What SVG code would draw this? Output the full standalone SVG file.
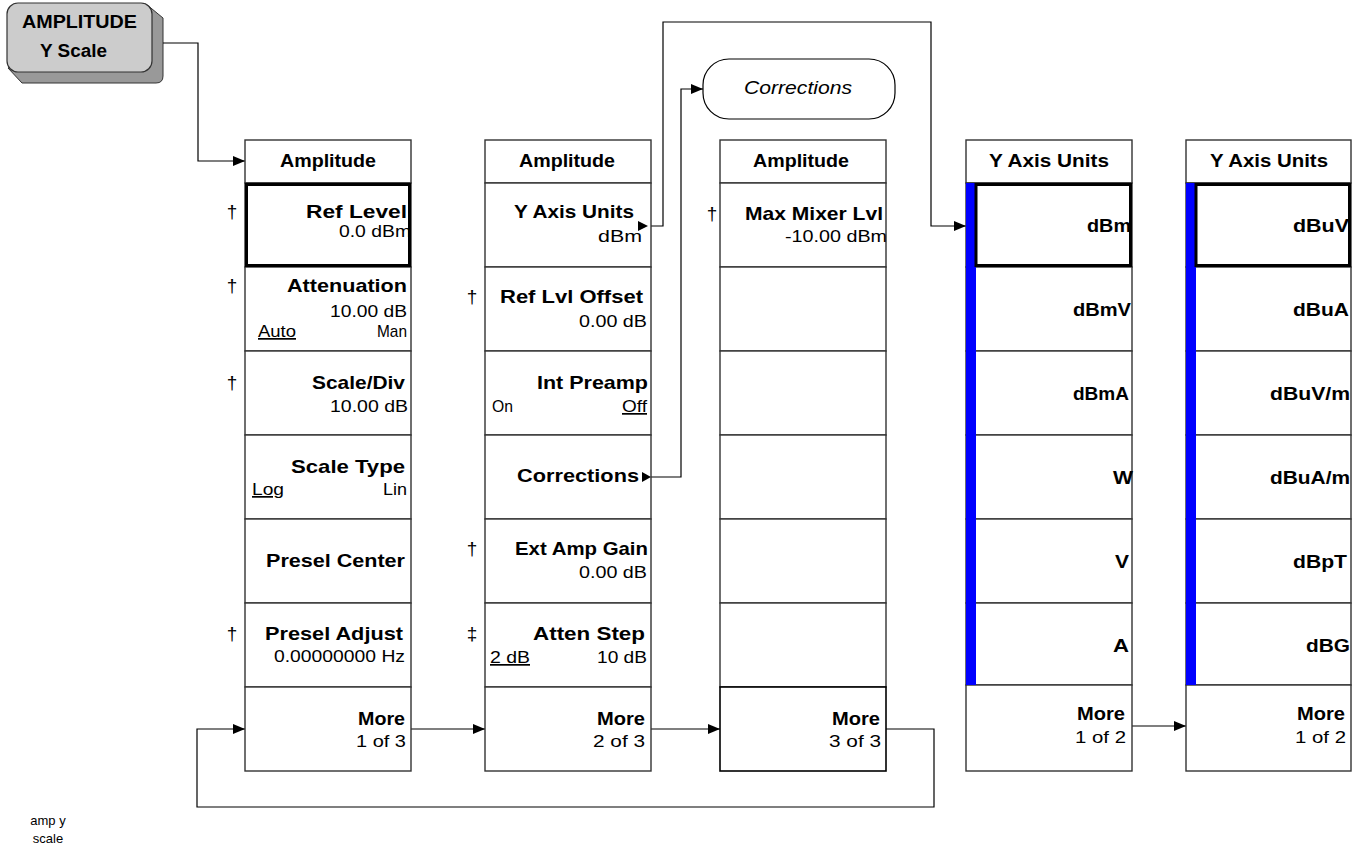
<svg xmlns="http://www.w3.org/2000/svg" width="1352" height="849" viewBox="0 0 1352 849">
<style>
text{font-family:"Liberation Sans",Arial,sans-serif;fill:#000}
.b{font-weight:bold;font-size:19px}
.h{font-weight:bold;font-size:18px}
.r{font-size:17px}
.i{font-size:18px;font-style:italic}
.d{font-size:19px;text-anchor:middle}
.u{text-decoration:underline}
.s{font-size:13px;text-anchor:middle}
.cell{fill:#fff;stroke:#333;stroke-width:1.4}
.sel{fill:none;stroke:#000;stroke-width:3}
.blue{fill:#0000ff}
.con{fill:none;stroke:#000;stroke-width:1.2}
.tri{fill:#000}
</style>
<defs>
<marker id="ar" markerWidth="12" markerHeight="10" refX="12" refY="5" orient="auto" markerUnits="userSpaceOnUse">
<path d="M0,0 L12,5 L0,10 Z" fill="#000"/>
</marker>
</defs>
<rect width="1352" height="849" fill="#fff"/>

<g id="key">
<path d="M146,4 L163,18 L163,76 Q163,83 156,83 L22,83 L8,68 Z" fill="#999" stroke="#333" stroke-width="1"/>
<rect x="7" y="3" width="145" height="69" rx="11" fill="#cccccc" stroke="#333" stroke-width="1.2"/>
<text class="h" x="22" y="28" textLength="115" lengthAdjust="spacingAndGlyphs">AMPLITUDE</text>
<text class="h" x="40" y="57" textLength="67" lengthAdjust="spacingAndGlyphs">Y Scale</text>
</g>

<g id="connectors">
<path class="con" d="M163,43 H198 V161 H245" marker-end="url(#ar)"/>
<path class="con" d="M648,226 H663 V22 H931 V226 H966" marker-end="url(#ar)"/>
<path class="con" d="M651,477 H681 V89 H703" marker-end="url(#ar)"/>
<path class="con" d="M411,729 H485" marker-end="url(#ar)"/>
<path class="con" d="M651,729 H720" marker-end="url(#ar)"/>
<path class="con" d="M886,729 H934 V807 H197 V729 H245" marker-end="url(#ar)"/>
<path class="con" d="M1132,726 H1186" marker-end="url(#ar)"/>
</g>

<g id="corrections">
<rect x="703" y="59" width="192" height="60" rx="26" fill="#fff" stroke="#000" stroke-width="1.2"/>
<text class="i" x="744" y="94" textLength="108" lengthAdjust="spacingAndGlyphs">Corrections</text>
</g>

<g id="menu1">
<rect class="cell" x="245" y="140" width="166" height="43"/>
<rect class="cell" x="245" y="183" width="166" height="84"/>
<rect class="cell" x="245" y="267" width="166" height="84"/>
<rect class="cell" x="245" y="351" width="166" height="84"/>
<rect class="cell" x="245" y="435" width="166" height="84"/>
<rect class="cell" x="245" y="519" width="166" height="84"/>
<rect class="cell" x="245" y="603" width="166" height="84"/>
<rect class="cell" x="245" y="687" width="166" height="84"/>
<rect class="sel" x="246.5" y="184.5" width="163" height="81"/>
<text class="h" x="280" y="167" textLength="96" lengthAdjust="spacingAndGlyphs">Amplitude</text>
<text class="d" x="232" y="218">†</text>
<text class="b" x="306" y="218" textLength="101" lengthAdjust="spacingAndGlyphs">Ref Level</text>
<text class="r" x="339" y="237" textLength="72" lengthAdjust="spacingAndGlyphs">0.0 dBm</text>
<text class="d" x="232" y="292">†</text>
<text class="b" x="287" y="292" textLength="120" lengthAdjust="spacingAndGlyphs">Attenuation</text>
<text class="r" x="330" y="317" textLength="77" lengthAdjust="spacingAndGlyphs">10.00 dB</text>
<text class="r u" x="258" y="337" textLength="38" lengthAdjust="spacingAndGlyphs">Auto</text>
<text class="r" x="377" y="337" textLength="30" lengthAdjust="spacingAndGlyphs">Man</text>
<text class="d" x="232" y="389">†</text>
<text class="b" x="312" y="389" textLength="93" lengthAdjust="spacingAndGlyphs">Scale/Div</text>
<text class="r" x="330" y="412" textLength="78" lengthAdjust="spacingAndGlyphs">10.00 dB</text>
<text class="b" x="291" y="473" textLength="114" lengthAdjust="spacingAndGlyphs">Scale Type</text>
<text class="r u" x="252" y="495" textLength="32" lengthAdjust="spacingAndGlyphs">Log</text>
<text class="r" x="383" y="495" textLength="24" lengthAdjust="spacingAndGlyphs">Lin</text>
<text class="b" x="266" y="567" textLength="139" lengthAdjust="spacingAndGlyphs">Presel Center</text>
<text class="d" x="232" y="640">†</text>
<text class="b" x="265" y="640" textLength="138" lengthAdjust="spacingAndGlyphs">Presel Adjust</text>
<text class="r" x="274" y="662" textLength="131" lengthAdjust="spacingAndGlyphs">0.00000000 Hz</text>
<text class="b" x="358" y="725" textLength="47" lengthAdjust="spacingAndGlyphs">More</text>
<text class="r" x="356" y="747" textLength="50" lengthAdjust="spacingAndGlyphs">1 of 3</text>
</g>

<g id="menu2">
<rect class="cell" x="485" y="140" width="166" height="43"/>
<rect class="cell" x="485" y="183" width="166" height="84"/>
<rect class="cell" x="485" y="267" width="166" height="84"/>
<rect class="cell" x="485" y="351" width="166" height="84"/>
<rect class="cell" x="485" y="435" width="166" height="84"/>
<rect class="cell" x="485" y="519" width="166" height="84"/>
<rect class="cell" x="485" y="603" width="166" height="84"/>
<rect class="cell" x="485" y="687" width="166" height="84"/>
<text class="h" x="519" y="167" textLength="96" lengthAdjust="spacingAndGlyphs">Amplitude</text>
<text class="b" x="514" y="218" textLength="120" lengthAdjust="spacingAndGlyphs">Y Axis Units</text>
<path class="tri" d="M638,221 L648,226 L638,231 Z"/>
<text class="r" x="598" y="242" textLength="44" lengthAdjust="spacingAndGlyphs">dBm</text>
<text class="d" x="472" y="303">†</text>
<text class="b" x="500" y="303" textLength="143" lengthAdjust="spacingAndGlyphs">Ref Lvl Offset</text>
<text class="r" x="579" y="327" textLength="68" lengthAdjust="spacingAndGlyphs">0.00 dB</text>
<text class="b" x="537" y="389" textLength="111" lengthAdjust="spacingAndGlyphs">Int Preamp</text>
<text class="r" x="492" y="412" textLength="21" lengthAdjust="spacingAndGlyphs">On</text>
<text class="r u" x="622" y="412" textLength="25" lengthAdjust="spacingAndGlyphs">Off</text>
<text class="b" x="517" y="482" textLength="122" lengthAdjust="spacingAndGlyphs">Corrections</text>
<path class="tri" d="M642,472 L651,477 L642,482 Z"/>
<text class="d" x="472" y="555">†</text>
<text class="b" x="515" y="555" textLength="133" lengthAdjust="spacingAndGlyphs">Ext Amp Gain</text>
<text class="r" x="579" y="578" textLength="68" lengthAdjust="spacingAndGlyphs">0.00 dB</text>
<text class="d" x="472" y="640">‡</text>
<text class="b" x="533" y="640" textLength="112" lengthAdjust="spacingAndGlyphs">Atten Step</text>
<text class="r u" x="490" y="663" textLength="40" lengthAdjust="spacingAndGlyphs">2 dB</text>
<text class="r" x="597" y="663" textLength="50" lengthAdjust="spacingAndGlyphs">10 dB</text>
<text class="b" x="597" y="725" textLength="48" lengthAdjust="spacingAndGlyphs">More</text>
<text class="r" x="593" y="747" textLength="52" lengthAdjust="spacingAndGlyphs">2 of 3</text>
</g>

<g id="menu3">
<rect class="cell" x="720" y="140" width="166" height="43"/>
<rect class="cell" x="720" y="183" width="166" height="84"/>
<rect class="cell" x="720" y="267" width="166" height="84"/>
<rect class="cell" x="720" y="351" width="166" height="84"/>
<rect class="cell" x="720" y="435" width="166" height="84"/>
<rect class="cell" x="720" y="519" width="166" height="84"/>
<rect class="cell" x="720" y="603" width="166" height="84"/>
<rect x="720" y="687" width="166" height="84" fill="#fff" stroke="#000" stroke-width="1.6"/>
<text class="h" x="753" y="167" textLength="96" lengthAdjust="spacingAndGlyphs">Amplitude</text>
<text class="d" x="712" y="220">†</text>
<text class="b" x="745" y="220" textLength="138" lengthAdjust="spacingAndGlyphs">Max Mixer Lvl</text>
<text class="r" x="785" y="242" textLength="102" lengthAdjust="spacingAndGlyphs">-10.00 dBm</text>
<text class="b" x="832" y="725" textLength="48" lengthAdjust="spacingAndGlyphs">More</text>
<text class="r" x="829" y="747" textLength="52" lengthAdjust="spacingAndGlyphs">3 of 3</text>
</g>

<g id="menu4">
<rect class="cell" x="966" y="140" width="166" height="43"/>
<rect class="cell" x="966" y="183" width="166" height="84"/>
<rect class="cell" x="966" y="267" width="166" height="84"/>
<rect class="cell" x="966" y="351" width="166" height="84"/>
<rect class="cell" x="966" y="435" width="166" height="84"/>
<rect class="cell" x="966" y="519" width="166" height="84"/>
<rect class="cell" x="966" y="603" width="166" height="82"/>
<rect class="cell" x="966" y="685" width="166" height="86"/>
<rect class="blue" x="966" y="183" width="10" height="502"/>
<rect class="sel" x="976" y="184.5" width="154.5" height="81"/>
<text class="h" x="989" y="167" textLength="120" lengthAdjust="spacingAndGlyphs">Y Axis Units</text>
<text class="b" x="1087" y="232" textLength="44" lengthAdjust="spacingAndGlyphs">dBm</text>
<text class="b" x="1073" y="316" textLength="58" lengthAdjust="spacingAndGlyphs">dBmV</text>
<text class="b" x="1073" y="400" textLength="56" lengthAdjust="spacingAndGlyphs">dBmA</text>
<text class="b" x="1113" y="484" textLength="20" lengthAdjust="spacingAndGlyphs">W</text>
<text class="b" x="1115" y="568" textLength="14" lengthAdjust="spacingAndGlyphs">V</text>
<text class="b" x="1113" y="652" textLength="16" lengthAdjust="spacingAndGlyphs">A</text>
<text class="b" x="1077" y="720" textLength="48" lengthAdjust="spacingAndGlyphs">More</text>
<text class="r" x="1075" y="743" textLength="51" lengthAdjust="spacingAndGlyphs">1 of 2</text>
</g>

<g id="menu5">
<rect class="cell" x="1186" y="140" width="165" height="43"/>
<rect class="cell" x="1186" y="183" width="165" height="84"/>
<rect class="cell" x="1186" y="267" width="165" height="84"/>
<rect class="cell" x="1186" y="351" width="165" height="84"/>
<rect class="cell" x="1186" y="435" width="165" height="84"/>
<rect class="cell" x="1186" y="519" width="165" height="84"/>
<rect class="cell" x="1186" y="603" width="165" height="82"/>
<rect class="cell" x="1186" y="685" width="165" height="86"/>
<rect class="blue" x="1186" y="183" width="10" height="502"/>
<rect class="sel" x="1196" y="184.5" width="153.5" height="81"/>
<text class="h" x="1210" y="167" textLength="118" lengthAdjust="spacingAndGlyphs">Y Axis Units</text>
<text class="b" x="1293" y="232" textLength="56" lengthAdjust="spacingAndGlyphs">dBuV</text>
<text class="b" x="1293" y="316" textLength="56" lengthAdjust="spacingAndGlyphs">dBuA</text>
<text class="b" x="1270" y="400" textLength="80" lengthAdjust="spacingAndGlyphs">dBuV/m</text>
<text class="b" x="1270" y="484" textLength="80" lengthAdjust="spacingAndGlyphs">dBuA/m</text>
<text class="b" x="1293" y="568" textLength="54" lengthAdjust="spacingAndGlyphs">dBpT</text>
<text class="b" x="1306" y="652" textLength="44" lengthAdjust="spacingAndGlyphs">dBG</text>
<text class="b" x="1297" y="720" textLength="48" lengthAdjust="spacingAndGlyphs">More</text>
<text class="r" x="1295" y="743" textLength="51" lengthAdjust="spacingAndGlyphs">1 of 2</text>
</g>

<g id="caption">
<text class="s" x="48" y="825">amp y</text>
<text class="s" x="48" y="843">scale</text>
</g>
</svg>
